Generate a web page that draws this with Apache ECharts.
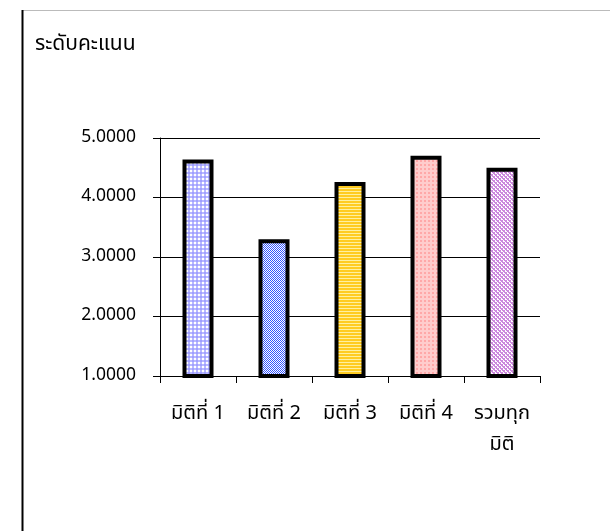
<!DOCTYPE html>
<html><head><meta charset="utf-8">
<script src="https://cdn.jsdelivr.net/npm/echarts@6/dist/echarts.min.js"></script>
<style>html,body{margin:0;padding:0;background:#fff}#c{width:610px;height:531px}</style>
</head><body><div id="c"></div>
<script>
const categories = ['มิติที่ 1', 'มิติที่ 2', 'มิติที่ 3', 'มิติที่ 4', 'รวมทุก\nมิติ'];
const scores = [4.64, 3.30, 4.26, 4.70, 4.50];
const yTicks = [1, 2, 3, 4, 5];
const axisTitle = 'ระดับคะแนน';

function makePattern(kind){
  const c = document.createElement('canvas');
  const ctx = c.getContext('2d');
  if(kind===0){ // lavender grid
    c.width=4;c.height=4;
    ctx.fillStyle='#ffffff';ctx.fillRect(0,0,4,4);
    ctx.fillStyle='#b8b8ff';ctx.fillRect(0,0,4,2);ctx.fillRect(0,0,2,4);
    ctx.fillStyle='#a0a0ff';ctx.fillRect(0,0,2,2);
  } else if(kind===1){ // blue checker
    c.width=2;c.height=2;
    ctx.fillStyle='#ffffff';ctx.fillRect(0,0,2,2);
    ctx.fillStyle='#3355ff';ctx.fillRect(0,0,1,1);ctx.fillRect(1,1,1,1);
  } else if(kind===2){ // yellow stripes
    c.width=2;c.height=3;
    ctx.fillStyle='#fff0a0';ctx.fillRect(0,0,2,3);
    ctx.fillStyle='#ffcc22';ctx.fillRect(0,0,2,2);
  } else if(kind===3){ // pink dots
    c.width=4;c.height=4;
    ctx.fillStyle='#ffcccc';ctx.fillRect(0,0,4,4);
    ctx.fillStyle='#ffa8a8';ctx.fillRect(0,0,2,2);
  } else { // purple checker
    c.width=4;c.height=4;
    ctx.fillStyle='#ffffff';ctx.fillRect(0,0,4,4);
    ctx.fillStyle='#cc88dd';
    ctx.fillRect(0,0,2,1);ctx.fillRect(1,1,2,1);ctx.fillRect(2,2,2,1);ctx.fillRect(3,3,1,1);ctx.fillRect(0,3,1,1);
    ctx.fillRect(2,0,1,1);ctx.fillRect(0,2,1,1);
  }
  return {image:c, repeat:'repeat'};
}

const chart = echarts.init(document.getElementById('c'));
const font = 'Tahoma, "Noto Sans Thai", "DejaVu Sans", "Noto Sans", sans-serif';
chart.setOption({
  animation:false,
  backgroundColor:'#fff',
  graphic:[
    {type:'line',shape:{x1:22,y1:10.5,x2:610,y2:10.5},style:{stroke:'#bbbbbb',lineWidth:1}},
    {type:'line',shape:{x1:22.5,y1:10,x2:22.5,y2:531},style:{stroke:'#000',lineWidth:2}},
    {type:'text',left:35,top:35,style:{text:axisTitle,fontSize:21,fontFamily:font,fill:'#000'}}
  ],
  grid:{left:160,right:70,top:138,bottom:155},
  xAxis:{
    type:'category',data:categories,
    axisLine:{lineStyle:{color:'#000',width:1}},
    axisTick:{show:true,inside:false,length:7,lineStyle:{color:'#000'}},
    axisLabel:{color:'#000',fontSize:20,fontFamily:font,margin:23,lineHeight:31,interval:0}
  },
  yAxis:{
    type:'value',min:yTicks[0],max:yTicks[yTicks.length-1],interval:1,
    axisLine:{show:true,lineStyle:{color:'#000'}},
    axisTick:{show:true,length:7,lineStyle:{color:'#000'}},
    axisLabel:{color:'#000',fontSize:17.5,fontFamily:font,margin:24,formatter:v=>v.toFixed(4)},
    splitLine:{show:true,lineStyle:{color:'#000',width:1}}
  },
  series:[{
    type:'bar',barWidth:31,
    data:scores.map((v,i)=>({value:v,itemStyle:{color:makePattern(i)}})),
    itemStyle:{borderColor:'#000',borderWidth:4}
  }]
});
</script></body></html>
